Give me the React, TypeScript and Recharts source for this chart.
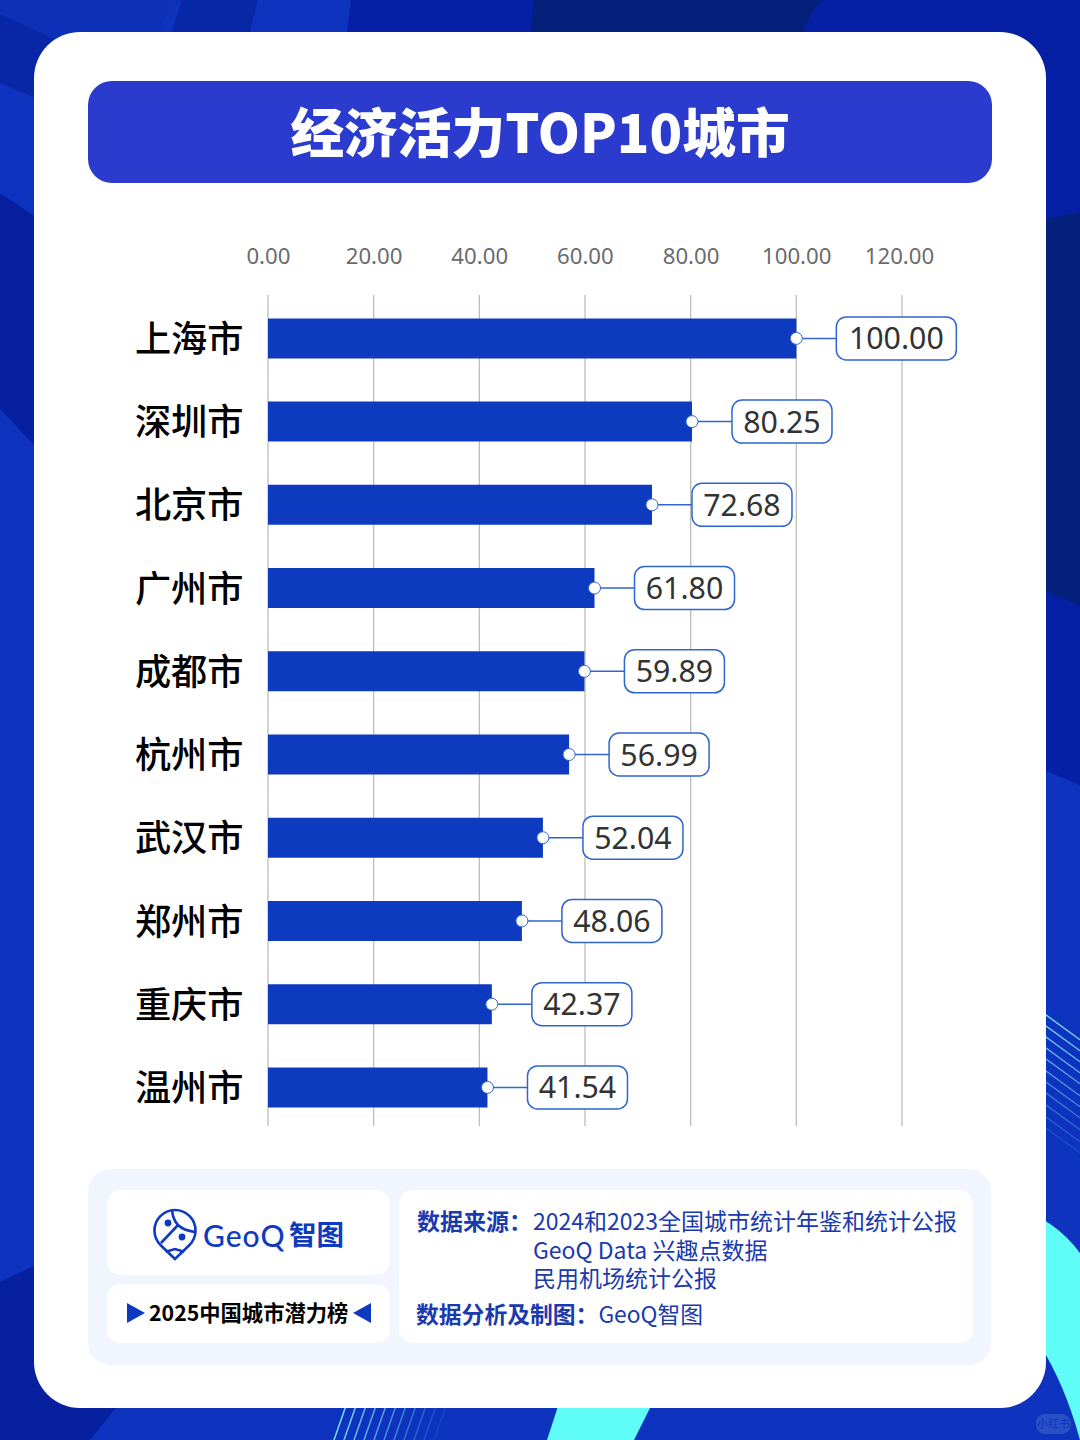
import { BarChart, Bar, XAxis, YAxis, CartesianGrid, LabelList } from 'recharts'

const cities = ['上海市', '深圳市', '北京市', '广州市', '成都市', '杭州市', '武汉市', '郑州市', '重庆市', '温州市']
const scores = [100, 80.25, 72.68, 61.8, 59.89, 56.99, 52.04, 48.06, 42.37, 41.54]
const xTicks = [0, 20, 40, 60, 80, 100, 120]

const sourceLines = ['2024和2023全国城市统计年鉴和统计公报', 'GeoQ Data 兴趣点数据', '民用机场统计公报']

const chartData = cities.map((city, i) => ({ city, score: scores[i] }))

const BLUE = '#0e3abf'
const TEXT_BLUE = '#1a3aae'
const FONT = '"Noto Sans CJK SC", "Noto Sans", sans-serif'

// decoration behind the card
const sideHatch = [1015, 1026, 1037, 1048, 1059, 1071, 1082, 1093, 1105, 1117, 1128]
const bottomHatch = [345, 355, 365, 375, 385, 395, 405, 415, 425, 435, 445]

function Callout({ x, y, width, height, value }: any) {
  const endX = x + width
  const cy = y + height / 2
  const text = Number(value).toFixed(2)
  const boxW = text.length > 5 ? 120 : 100
  const boxX = endX + 40
  return (
    <g>
      <line x1={endX} x2={boxX} y1={cy} y2={cy} stroke="#2f66cf" strokeWidth={1.5} />
      <circle cx={endX} cy={cy} r={6} fill="#fff" stroke="#2f66cf" strokeWidth={1} />
      <rect x={boxX} y={cy - 21.5} width={boxW} height={43} rx={10} fill="#fff" stroke="#2f66cf" strokeWidth={1.5} />
      <text x={boxX + boxW / 2} y={cy + 11} textAnchor="middle" fontSize={30.3} fill="#333" fontFamily='"Noto Sans", sans-serif'>
        {text}
      </text>
    </g>
  )
}

function ValueTick({ x, y, payload }: any) {
  // the last label sits a little left of its gridline in the original
  const dx = payload.value === 120 ? -2.5 : 0.4
  return (
    <text x={x + dx} y={y} textAnchor="middle" fontSize={22.2} fill="#6b6b6b" fontFamily='"Noto Sans", sans-serif'>
      {payload.value.toFixed(2)}
    </text>
  )
}

function CityTick({ x, y, payload }: any) {
  return (
    <text x={x + 0.5} y={y + 14} textAnchor="end" fontSize={36.2} fill="#000" fontWeight={500} fontFamily={FONT}>
      {payload.value}
    </text>
  )
}

function Background() {
  return (
    <svg width={1080} height={1440} style={{ position: 'absolute', left: 0, top: 0 }}>
      <rect width={1080} height={1440} fill="#0d33bf" />
      <path d="M0 14 L100 60 L150 60 Q160 15 182 0 L0 0Z" fill="#0c30b8" />
      <path d="M0 14 L100 60 L100 125 L0 83Z" fill="#0827a6" />
      <path d="M182 0 L258 0 L240 70 L160 70Z" fill="#0827a6" />
      <path d="M0 193 L100 260 L100 515 L0 409Z" fill="#0620a0" />
      <path d="M351 0 L1080 0 L1080 785 L900 710 L900 90 L340 90Z" fill="#0620a5" />
      <path d="M534 0 L823 0 Q805 15 795 60 L528 60Z" fill="#04207a" />
      <path d="M950 240 L1080 212 L1080 606 L950 550Z" fill="#04207a" />
      <path d="M0 1282 L100 1235 L100 1380 L122 1400 L90 1440 L0 1440Z" fill="#0620a0" />
      <path d="M1000 1204 Q1050 1213 1080 1253 L1080 1440 Q1065 1385 1040 1345 L1000 1300Z" fill="#5ffcf8" />
      <path d="M560 1400 L654 1400 L634 1440 L547 1440Z" fill="#5ffcf8" />
      {sideHatch.map((y0, i) => (
        <line key={y0} x1={1040} y1={y0 - 4.4} x2={1080} y2={y0 + 24.8} stroke="#7fe7f5" strokeWidth={1.4} opacity={0.95 - i * 0.08} />
      ))}
      {bottomHatch.map((x0, i) => (
        <line key={x0} x1={x0 + 3} y1={1400} x2={x0 - 11} y2={1440} stroke="#7fe7f5" strokeWidth={1.5} opacity={0.95 - i * 0.085} />
      ))}
      <rect x={1036} y={1414} width={35} height={20} rx={9} fill="#2a50c8" />
      <text x={1053.5} y={1428} textAnchor="middle" fontSize={11} fill="#0d33bf" fontFamily={FONT}>小红书</text>
    </svg>
  )
}

function Logo() {
  return (
    <svg width={283} height={85} style={{ position: 'absolute', left: 0, top: 0 }}>
      <g fill="none" stroke={BLUE} strokeWidth={2.6}>
        <path d="M68 69 L54 55.5 A20.5 20.5 0 1 1 82 55.5 Z" />
        <path d="M65 20.5 C66 28 68 32 71 35 C75 39 81 41 88 42" />
        <path d="M71 35 L54 53" />
        <path d="M58.7 61.7 L68 59 L77.3 61.7" />
      </g>
      <circle cx={61} cy={33} r={3.4} fill={BLUE} />
      <circle cx={75} cy={47} r={3.4} fill={BLUE} />
      <text x={96} y={57} fontSize={30} fontFamily="Lato, sans-serif" fontWeight={500} fill={BLUE} letterSpacing={1}>GeoQ</text>
      <text x={182} y={55} fontSize={27.5} fontFamily={FONT} fontWeight={700} fill={BLUE}>智图</text>
    </svg>
  )
}

export default function App() {
  return (
    <div style={{ position: 'absolute', left: 0, top: 0, width: 1080, height: 1440, overflow: 'hidden', fontFamily: FONT }}>
      <Background />

      {/* card */}
      <div style={{ position: 'absolute', left: 34, top: 32, width: 1012, height: 1376, background: '#fff', borderRadius: 46 }} />

      <div
        style={{
          position: 'absolute', left: 88, top: 81, width: 904, height: 102, background: '#2b3bcd', borderRadius: 24,
          color: '#fff', fontSize: 53.7, fontWeight: 900, textAlign: 'center', lineHeight: '98px',
        }}
      >
        经济活力TOP10城市
      </div>

      <div style={{ position: 'absolute', left: 0, top: 0 }}>
        <BarChart
          width={1080}
          height={1440}
          data={chartData}
          layout="vertical"
          margin={{ top: 245, right: 178, bottom: 314, left: 0 }}
        >
          <CartesianGrid horizontal={false} stroke="#bdbdbd" strokeWidth={1.3} syncWithTicks />
          <XAxis
            type="number"
            orientation="top"
            domain={[0, 120]}
            ticks={xTicks}
            height={50}
            axisLine={false}
            tickLine={false}
            tickSize={0}
            tickMargin={31}
            interval={0}
            tick={ValueTick}
          />
          <YAxis
            type="category"
            dataKey="city"
            width={268}
            axisLine={false}
            tickLine={false}
            tickSize={0}
            tickMargin={25}
            interval={0}
            padding={{ top: 1.4, bottom: -2.6 }}
            tick={CityTick}
          />
          <Bar dataKey="score" fill={BLUE} barSize={40} isAnimationActive={false}>
            <LabelList dataKey="score" content={Callout} />
          </Bar>
        </BarChart>
      </div>

      {/* footer */}
      <div style={{ position: 'absolute', left: 88, top: 1169, width: 903, height: 196, background: '#f1f6fe', borderRadius: 22 }} />
      <div style={{ position: 'absolute', left: 107, top: 1190, width: 283, height: 85, background: '#fff', borderRadius: 14 }}>
        <Logo />
      </div>
      <div style={{ position: 'absolute', left: 107, top: 1284, width: 283, height: 59, background: '#fff', borderRadius: 14 }}>
        <svg width={283} height={59} style={{ position: 'absolute', left: 0, top: 0 }}>
          <polygon points="20,19 38,29 20,39" fill={BLUE} />
          <polygon points="264,19 246,29 264,39" fill={BLUE} />
        </svg>
        <div style={{ position: 'absolute', left: 42, top: 0, lineHeight: '56px', fontSize: 21.3, fontWeight: 700, color: '#000', whiteSpace: 'nowrap' }}>
          2025中国城市潜力榜
        </div>
      </div>
      <div style={{ position: 'absolute', left: 399, top: 1190, width: 574, height: 153, background: '#fff', borderRadius: 14 }} />

      <div style={{ position: 'absolute', left: 417, top: 1206, fontSize: 23, lineHeight: '28.5px', fontWeight: 700, color: TEXT_BLUE, whiteSpace: 'nowrap' }}>
        数据来源：
      </div>
      <div style={{ position: 'absolute', left: 533, top: 1206, fontSize: 23, lineHeight: '28.5px', color: TEXT_BLUE, whiteSpace: 'pre' }}>
        {sourceLines.join('\n')}
      </div>
      <div style={{ position: 'absolute', left: 416, top: 1300, fontSize: 22.8, lineHeight: '28px', color: TEXT_BLUE, whiteSpace: 'nowrap' }}>
        <span style={{ fontWeight: 700 }}>数据分析及制图：</span>GeoQ智图
      </div>
    </div>
  )
}
